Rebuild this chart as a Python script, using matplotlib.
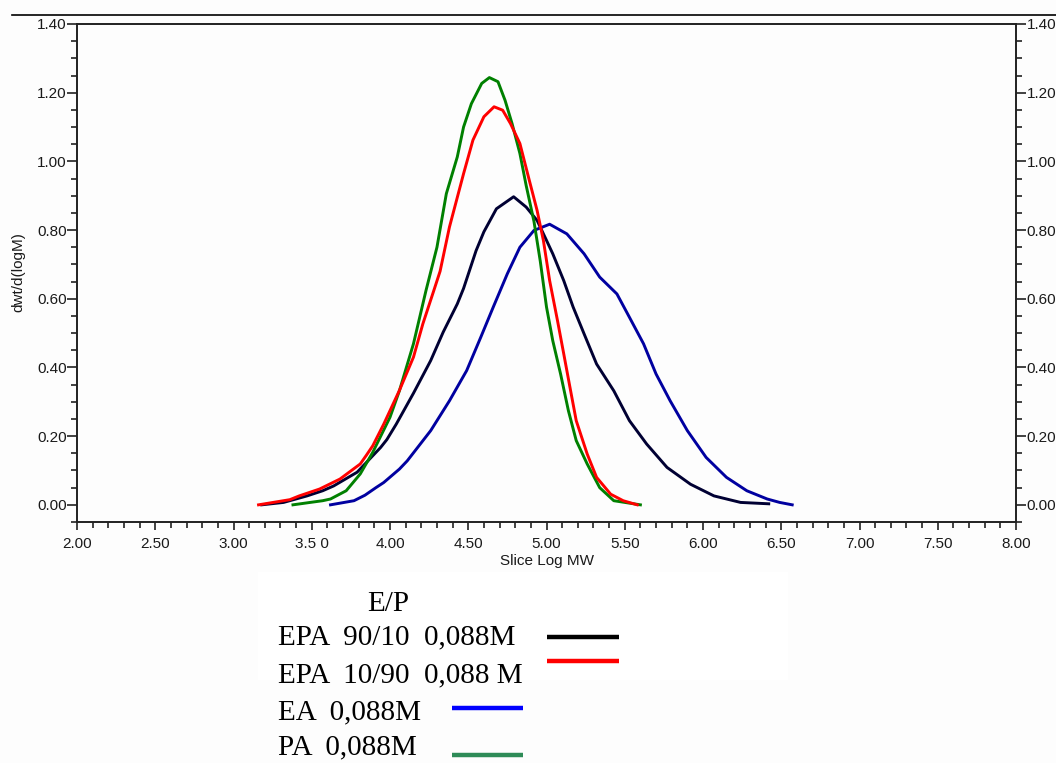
import matplotlib
matplotlib.use("Agg")
import matplotlib.pyplot as plt
from matplotlib.lines import Line2D
from matplotlib.patches import Rectangle
from matplotlib.ticker import MultipleLocator, FixedLocator, FixedFormatter, FormatStrFormatter

# ---- data ----
epa9010_x = [3.18, 3.32, 3.47, 3.57, 3.64, 3.79, 3.94, 3.98, 4.04, 4.15, 4.26, 4.34, 4.43, 4.47, 4.51,
             4.55, 4.60, 4.68, 4.79, 4.87, 4.94, 5.00, 5.04, 5.11, 5.17, 5.24, 5.32, 5.43, 5.53, 5.64,
             5.77, 5.92, 6.07, 6.24, 6.42]
epa9010_y = [0.0, 0.007, 0.026, 0.041, 0.055, 0.095, 0.167, 0.19, 0.235, 0.325, 0.42, 0.503, 0.585, 0.63, 0.685,
             0.74, 0.795, 0.862, 0.897, 0.867, 0.828, 0.77, 0.731, 0.653, 0.576, 0.498, 0.41, 0.332, 0.245, 0.177,
             0.109, 0.06, 0.026, 0.007, 0.003]

epa1090_x = [3.16, 3.28, 3.36, 3.42, 3.55, 3.68, 3.81, 3.85, 3.89, 3.96, 4.06, 4.15, 4.21, 4.28, 4.32, 4.38,
             4.47, 4.53, 4.60, 4.665, 4.72, 4.77, 4.83, 4.89, 4.94, 4.98, 5.02, 5.07, 5.11, 5.15, 5.19, 5.26,
             5.32, 5.41, 5.49, 5.58]
epa1090_y = [0.0, 0.009, 0.015, 0.026, 0.046, 0.075, 0.119, 0.145, 0.172, 0.235, 0.333, 0.43, 0.527, 0.624, 0.68, 0.809,
             0.964, 1.062, 1.13, 1.159, 1.149, 1.11, 1.052, 0.945, 0.857, 0.77, 0.653, 0.537, 0.44, 0.342, 0.245, 0.148,
             0.08, 0.031, 0.012, 0.0]

ea_x = [3.62, 3.77, 3.84, 3.91, 3.96, 4.06, 4.11, 4.26, 4.38, 4.49, 4.58, 4.66, 4.75, 4.83, 4.92, 5.02, 5.13,
        5.24, 5.34, 5.45, 5.53, 5.62, 5.70, 5.79, 5.90, 6.02, 6.15, 6.28, 6.41, 6.49, 6.57]
ea_y = [0.0, 0.012, 0.028, 0.05, 0.065, 0.104, 0.128, 0.216, 0.303, 0.391, 0.488, 0.576, 0.673, 0.75, 0.799, 0.817, 0.789,
        0.731, 0.663, 0.614, 0.546, 0.469, 0.381, 0.303, 0.216, 0.138, 0.08, 0.041, 0.017, 0.007, 0.0]

pa_x = [3.38, 3.49, 3.57, 3.62, 3.72, 3.81, 3.89, 4.00, 4.06, 4.15, 4.23, 4.30, 4.36, 4.43, 4.47, 4.52, 4.586,
        4.635, 4.69, 4.735, 4.78, 4.83, 4.87, 4.92, 4.96, 5.00, 5.04, 5.09, 5.14, 5.19, 5.26, 5.34, 5.43, 5.60]
pa_y = [0.0, 0.007, 0.012, 0.017, 0.041, 0.09, 0.153, 0.255, 0.332, 0.469, 0.624, 0.75, 0.906, 1.013, 1.10, 1.168, 1.227,
        1.244, 1.232, 1.178, 1.11, 1.023, 0.93, 0.825, 0.71, 0.576, 0.478, 0.381, 0.274, 0.187, 0.119, 0.05, 0.012, 0.0]

x_ticks = [2.0, 2.5, 3.0, 3.5, 4.0, 4.5, 5.0, 5.5, 6.0, 6.5, 7.0, 7.5, 8.0]
x_tick_labels = ["2.00", "2.50", "3.00", "3.5 0", "4.00", "4.50", "5.00", "5.50", "6.00", "6.50", "7.00", "7.50", "8.00"]

legend_title = "E/P"
legend_labels = ["EPA  90/10  0,088M", "EPA  10/90  0,088 M", "EA  0,088M", "PA  0,088M"]

W, H = 1056, 763
fig = plt.figure(figsize=(W / 100, H / 100), dpi=100, facecolor="#fdfdfd")

def fx(px):
    return px / W

def fy(py):
    return 1 - py / H

ax = fig.add_axes([fx(77), fy(522), fx(1016) - fx(77), fy(24) - fy(522)])
ax.set_facecolor("#fdfdfd")

ax.plot(epa9010_x, epa9010_y, color="#000033", lw=2.1)
ax.plot(ea_x, ea_y, color="#0000a0", lw=2.1)
ax.plot(pa_x, pa_y, color="#008000", lw=2.1)
ax.plot(epa1090_x, epa1090_y, color="#ff0000", lw=2.1)

ax.set_xlim(2.0, 8.0)
ax.set_ylim(-0.05, 1.40)

ax.xaxis.set_major_locator(FixedLocator(x_ticks))
ax.xaxis.set_major_formatter(FixedFormatter(x_tick_labels))
ax.xaxis.set_minor_locator(MultipleLocator(0.1))
ax.yaxis.set_major_locator(MultipleLocator(0.2))
ax.yaxis.set_minor_locator(MultipleLocator(0.05))
ax.yaxis.set_major_formatter(FormatStrFormatter("%.2f"))

fs = 11
fam = ["Liberation Sans", "DejaVu Sans"]
ax.tick_params(axis="both", which="major", direction="out", width=1.2, color="#222222",
               labelsize=fs, labelcolor="#1a1a1a")
ax.tick_params(axis="both", which="minor", direction="out", width=1.2, color="#222222")
ax.tick_params(axis="y", which="major", length=7)
ax.tick_params(axis="y", which="minor", length=4)
ax.tick_params(axis="x", which="major", length=6, pad=5)
ax.tick_params(axis="x", which="minor", length=4)
ax.tick_params(axis="y", which="both", left=True, right=True, labelleft=True, labelright=True, pad=0.5)
for t in ax.yaxis.get_major_ticks():
    t.label1.set_family(fam)
    t.label2.set_family(fam)
    t.label2.set_fontsize(fs)
for t in ax.xaxis.get_major_ticks():
    t.label1.set_family(fam)

for s in ax.spines.values():
    s.set_linewidth(1.4)
    s.set_color("#222222")

ax.set_xlabel("Slice Log MW", fontsize=fs, family=fam, color="#1a1a1a", labelpad=2)
fig.text(fx(18), fy(272), "dwt/d(logM)", rotation=90, ha="center", va="center",
         fontsize=fs, family=fam, color="#1a1a1a")

# line at very top of figure
fig.add_artist(Line2D([fx(12), fx(1056)], [fy(15), fy(15)], color="black", lw=1.2))

# legend block (text with coloured bars)
fig.add_artist(Rectangle((fx(258), fy(680)), fx(788) - fx(258), fy(572) - fy(680),
                         facecolor="white", edgecolor="none", zorder=0))
serif = ["Liberation Serif", "DejaVu Serif"]
lfs = 21
fig.text(fx(367), fy(611), legend_title, fontsize=lfs, family=serif, va="baseline", ha="left")
baselines = [644, 682, 719, 754]
for lab, b in zip(legend_labels, baselines):
    fig.text(fx(278), fy(b), lab, fontsize=lfs, family=serif, va="baseline", ha="left")

bars = [((547, 619), 637, "#000000"), ((547, 619), 661, "#ff0000"),
        ((452, 523), 708, "#0000ff"), ((452, 523), 755, "#2e8b57")]
for (x0, x1), yy, c in bars:
    fig.add_artist(Line2D([fx(x0), fx(x1)], [fy(yy), fy(yy)], color=c, lw=3.2, solid_capstyle="butt"))

fig.savefig("out.png", dpi=100, facecolor=fig.get_facecolor())
